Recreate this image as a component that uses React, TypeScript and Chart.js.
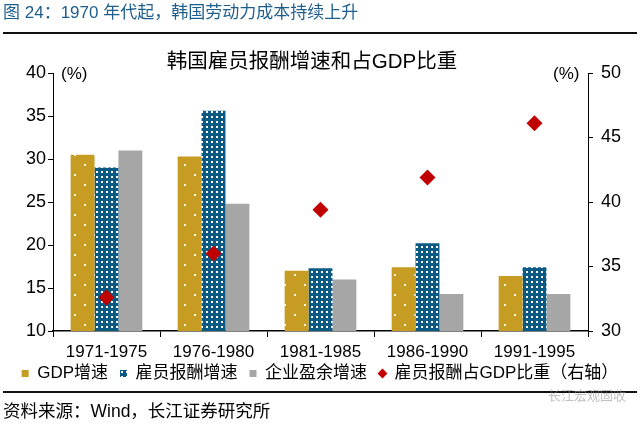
import React, { useEffect, useRef } from "react";
import { Chart, registerables } from "chart.js";

Chart.register(...registerables);

const categories = ["1971-1975", "1976-1980", "1981-1985", "1986-1990", "1991-1995"];
const gdpGrowth = [30.5, 30.3, 17.0, 17.4, 16.4];
const compGrowth = [29.0, 35.6, 17.3, 20.2, 17.4];
const profitGrowth = [31.0, 24.8, 16.0, 14.3, 14.3];
const compShare = [32.6, 36.0, 39.4, 41.9, 46.1];
const seriesNames = ["GDP增速", "雇员报酬增速", "企业盈余增速", "雇员报酬占GDP比重（右轴）"];

const FONT = '"Liberation Sans", "Noto Sans CJK SC", sans-serif';
const GOLD = "#C69C22";
const BLUE = "#0B5A84";
const GRAY = "#A6A6A6";
const RED = "#C00000";

function makePattern(bg: string, dot: string, tile: number, dots: [number, number][], size: number) {
  const c = document.createElement("canvas");
  c.width = tile;
  c.height = tile;
  const ctx = c.getContext("2d")!;
  ctx.fillStyle = bg;
  ctx.fillRect(0, 0, tile, tile);
  ctx.fillStyle = dot;
  for (const [x, y] of dots) ctx.fillRect(x, y, size, size);
  const p = ctx.createPattern(c, "repeat");
  return p || bg;
}

const legendShift = {
  id: "legendShift",
  afterLayout(chart: any) {
    const lg = chart.legend;
    if (lg) {
      lg.top -= 11;
      lg.bottom -= 11;
    }
  },
};

export default function App() {
  const ref = useRef<HTMLCanvasElement>(null);

  useEffect(() => {
    if (!ref.current) return;
    const goldPat = makePattern(GOLD, "#FFF8DC", 20, [[4, 4], [14, 14]], 2);
    const bluePat = makePattern(BLUE, "#FFFFFF", 5, [[1, 1]], 2);

    const chart = new Chart(ref.current, {
      type: "bar",
      data: {
        labels: categories,
        datasets: [
          {
            label: seriesNames[0],
            data: gdpGrowth,
            backgroundColor: goldPat as any,
            borderWidth: 0,
            yAxisID: "y",
            pointStyle: "rect",
            categoryPercentage: 0.67,
            barPercentage: 1.0,
            order: 1,
          },
          {
            label: seriesNames[1],
            data: compGrowth,
            backgroundColor: bluePat as any,
            borderWidth: 0,
            yAxisID: "y",
            pointStyle: "rect",
            categoryPercentage: 0.67,
            barPercentage: 1.0,
            order: 1,
          },
          {
            label: seriesNames[2],
            data: profitGrowth,
            backgroundColor: GRAY,
            borderWidth: 0,
            yAxisID: "y",
            pointStyle: "rect",
            categoryPercentage: 0.67,
            barPercentage: 1.0,
            order: 1,
          },
          {
            type: "line",
            label: seriesNames[3],
            data: compShare,
            yAxisID: "y1",
            showLine: false,
            borderWidth: 0,
            borderColor: RED,
            backgroundColor: RED,
            pointStyle: "rectRot",
            pointRadius: 8,
            pointBorderWidth: 0,
            pointBackgroundColor: RED,
            order: 0,
          } as any,
        ],
      },
      plugins: [legendShift],
      options: {
        animation: false,
        responsive: false,
        maintainAspectRatio: false,
        layout: { padding: { top: 73, left: 0, right: 0, bottom: 23 } },
        font: { family: FONT },
        plugins: {
          legend: {
            position: "bottom",
            labels: {
              usePointStyle: true,
              boxWidth: 7,
              boxHeight: 7,
              padding: 12,
              color: "#000",
              font: { family: FONT, size: 17 },
              sort: (a: any, b: any) => a.datasetIndex - b.datasetIndex,
            },
          },
          tooltip: { enabled: false },
          title: { display: false },
        },
        scales: {
          x: {
            offset: true,
            grid: {
              display: true,
              offset: true,
              drawOnChartArea: false,
              drawTicks: true,
              tickLength: 6,
              color: "#000",
            },
            border: { display: true, color: "#000", width: 1.5 },
            ticks: { color: "#000", padding: 5, font: { family: FONT, size: 17 } },
            afterFit: (s: any) => {
              s.height = 33;
            },
          },
          y: {
            position: "left",
            min: 10,
            max: 40,
            ticks: { stepSize: 5, color: "#000", padding: 2, font: { family: FONT, size: 18 } },
            grid: { drawOnChartArea: false, drawTicks: true, tickLength: 5, color: "#000" },
            border: { display: true, color: "#000", width: 1 },
            afterFit: (s: any) => {
              s.width = 53;
            },
          },
          y1: {
            position: "right",
            min: 30,
            max: 50,
            ticks: { stepSize: 5, color: "#000", padding: 8, font: { family: FONT, size: 18 } },
            grid: { drawOnChartArea: false, drawTicks: true, tickLength: 5, color: "#000" },
            border: { display: true, color: "#000", width: 1 },
            afterFit: (s: any) => {
              s.width = 52;
            },
          },
        },
      },
    });
    return () => chart.destroy();
  }, []);

  const txt: React.CSSProperties = { position: "absolute", whiteSpace: "nowrap", fontFamily: FONT, lineHeight: 1 };

  return (
    <div style={{ position: "fixed", left: 0, top: 0, width: 640, height: 426, background: "#fff", overflow: "hidden" }}>
      <canvas ref={ref} width={640} height={426} style={{ position: "absolute", left: 0, top: 0, width: 640, height: 426 }} />
      <div style={{ ...txt, left: 3, top: 4, fontSize: 17, color: "#1E5E8C" }}>图 24：1970 年代起，韩国劳动力成本持续上升</div>
      <div style={{ position: "absolute", left: 3, top: 32, width: 634, height: 2, background: "#111" }} />
      <div style={{ ...txt, left: -8, width: 640, textAlign: "center", top: 51, fontSize: 20.5, color: "#000" }}>韩国雇员报酬增速和占GDP比重</div>
      <div style={{ ...txt, left: 61, top: 65, fontSize: 17, color: "#000" }}>(%)</div>
      <div style={{ ...txt, left: 553, top: 65, fontSize: 17, color: "#000" }}>(%)</div>
      <div style={{ position: "absolute", left: 3, top: 391, width: 634, height: 2, background: "#111" }} />
      <div style={{ ...txt, left: 548, top: 389, fontSize: 13, color: "rgba(140,140,140,0.55)" }}>长江宏观固收</div>
      <div style={{ ...txt, left: 3, top: 403, fontSize: 17.5, color: "#000" }}>资料来源：Wind，长江证券研究所</div>
    </div>
  );
}
